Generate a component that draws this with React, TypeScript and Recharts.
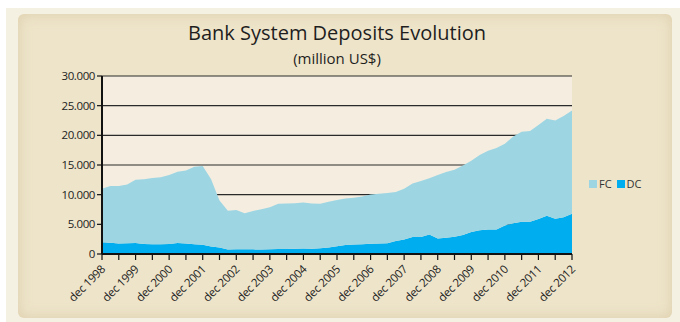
import { Area, AreaChart, CartesianGrid, XAxis, YAxis } from "recharts";

// months counted from dec 1998, quarterly
const months = [
  0, 3, 6, 9, 12, 15, 18, 21, 24, 27, 30, 33, 36, 39, 42, 45, 48, 51, 54, 57,
  60, 63, 66, 69, 72, 75, 78, 81, 84, 87, 90, 93, 96, 99, 102, 105, 108, 111, 114, 117,
  120, 123, 126, 129, 132, 135, 138, 141, 144, 147, 150, 153, 156, 159, 162, 165, 168,
];

const dcValues = [
  2000, 1900, 1750, 1800, 1850, 1700, 1650, 1650, 1700, 1850, 1750, 1650, 1550, 1250, 1100, 750, 780, 800, 780, 760,
  800, 830, 850, 880, 920, 900, 950, 1100, 1300, 1500, 1600, 1650, 1720, 1750, 1820, 2200, 2450, 2850, 2850, 3300,
  2600, 2750, 2900, 3200, 3700, 4000, 4150, 4150, 4800, 5200, 5450, 5450, 5900, 6450, 5950, 6200, 6800,
];

const fcValues = [
  9000, 9540, 9690, 9900, 10670, 10900, 11150, 11300, 11600, 12000, 12340, 13050, 13300, 11350, 7900, 6530, 6620, 6080, 6470, 6790,
  7100, 7640, 7670, 7670, 7760, 7600, 7500, 7700, 7800, 7850, 7900, 8050, 8300, 8400, 8460, 8250, 8550, 9050, 9450, 9450,
  10700, 11050, 11300, 11700, 12000, 12700, 13250, 13700, 13790, 14600, 15150, 15300, 15850, 16350, 16550, 17050, 17400,
];

const xTicks = [
  0, 6, 12, 18, 24, 30, 36, 42, 48, 54, 60, 66, 72, 78, 84, 90, 96, 102, 108, 114,
  120, 126, 132, 138, 144, 150, 156, 162, 168,
];
const yTicks = [0, 5000, 10000, 15000, 20000, 25000, 30000];

const data = months.map((m, i) => ({ m, DC: dcValues[i], FC: fcValues[i] }));

const FC_COLOR = "#9dd5e3";
const DC_COLOR = "#00aeef";
const FONT = "'Open Sans', 'DejaVu Sans', sans-serif";

function fmtThousands(v: number): string {
  return v === 0 ? "0" : `${Math.floor(v / 1000)}.${String(v % 1000).padStart(3, "0")}`;
}

function XTick(props: any) {
  const { x, y, payload } = props;
  const m = payload.value as number;
  if (m % 12 !== 0) return null;
  return (
    <text
      x={x + 4}
      y={y + 8}
      textAnchor="end"
      fontSize={11.5}
      fill="#222"
      fontFamily={FONT}
      letterSpacing={-0.3}
      transform={`rotate(-45 ${x + 4} ${y + 8})`}
    >
      {`dec ${1998 + m / 12}`}
    </text>
  );
}

function LegendBox() {
  const item = (color: string, label: string) => (
    <span style={{ display: "inline-flex", alignItems: "center", marginRight: 5 }}>
      <span style={{ width: 8, height: 8, background: color, display: "inline-block", marginRight: 2 }} />
      <span>{label}</span>
    </span>
  );
  return (
    <div style={{ fontFamily: FONT, fontSize: 11, color: "#333", display: "flex" }}>
      {item(FC_COLOR, "FC")}
      {item(DC_COLOR, "DC")}
    </div>
  );
}

export default function App() {
  return (
    <div style={{ position: "absolute", left: 0, top: 0, width: 680, height: 322, background: "#ffffff", overflow: "hidden" }}>
      <div style={{ position: "absolute", left: 6, top: 8, right: 0, bottom: 0, background: "#f5f1e2" }} />
      <div
        style={{
          position: "absolute",
          left: 18,
          top: 14,
          width: 654,
          height: 304,
          borderRadius: 6,
          background: "#eee4c9",
          boxShadow: "inset 0 0 14px rgba(190,170,120,0.35)",
        }}
      />
      <div
        style={{
          position: "absolute",
          left: 0,
          width: 680,
          top: 22,
          height: 22,
          lineHeight: "22px",
          textAlign: "center",
          fontFamily: FONT,
          fontSize: 20,
          color: "#1e1e1e",
          paddingRight: 6,
          boxSizing: "border-box",
        }}
      >
        Bank System Deposits Evolution
      </div>
      <div
        style={{
          position: "absolute",
          left: 0,
          width: 680,
          top: 49,
          height: 18,
          lineHeight: "18px",
          textAlign: "center",
          fontFamily: FONT,
          fontSize: 15,
          color: "#1e1e1e",
          paddingRight: 6,
          boxSizing: "border-box",
        }}
      >
        (million US$)
      </div>
      <div style={{ position: "absolute", left: 0, top: 0 }}>
        <AreaChart width={680} height={322} data={data} margin={{ top: 76, right: 108, left: 42, bottom: 6 }}>
          <CartesianGrid horizontal vertical={false} fill="#f5eee0" stroke="#2a2a2a" strokeWidth={1.2} fillOpacity={1} />
          <XAxis
            dataKey="m"
            type="number"
            domain={[0, 168]}
            ticks={xTicks}
            interval={0}
            height={62}
            tick={<XTick />}
            tickSize={6}
            tickLine={{ stroke: "#111", strokeWidth: 1.2 }}
            axisLine={{ stroke: "#111", strokeWidth: 2 }}
          />
          <YAxis
            type="number"
            domain={[0, 30000]}
            ticks={yTicks}
            interval={0}
            width={60}
            tickSize={5}
            tickFormatter={fmtThousands}
            tick={{ fontSize: 11.5, fill: "#222", fontFamily: FONT, letterSpacing: -0.4 }}
            tickLine={{ stroke: "#111", strokeWidth: 1.2 }}
            axisLine={{ stroke: "#111", strokeWidth: 2 }}
          />
          <Area
            type="linear"
            dataKey="DC"
            stackId="d"
            stroke="none"
            fill={DC_COLOR}
            fillOpacity={1}
            isAnimationActive={false}
          />
          <Area
            type="linear"
            dataKey="FC"
            stackId="d"
            stroke="none"
            fill={FC_COLOR}
            fillOpacity={1}
            isAnimationActive={false}
          />
        </AreaChart>
      </div>
      <div style={{ position: "absolute", left: 589, top: 176 }}>
        <LegendBox />
      </div>
    </div>
  );
}
